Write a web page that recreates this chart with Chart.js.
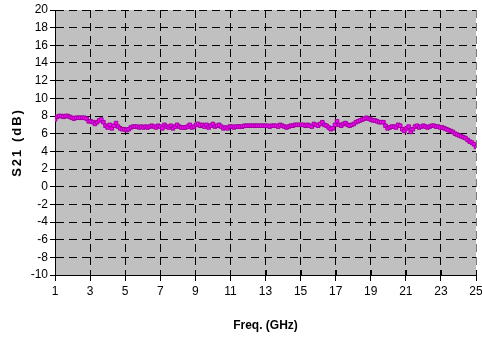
<!DOCTYPE html>
<html><head><meta charset="utf-8">
<script src="https://cdn.jsdelivr.net/npm/chart.js@4/dist/chart.umd.min.js"></script>
<style>html,body{margin:0;padding:0;background:#fff;}#c{display:block;}</style>
</head><body>
<canvas id="c" width="482" height="339"></canvas>
<script>
// Frequency samples (GHz)
const freqGHz = [
 1, 1.12, 1.24, 1.36, 1.48, 1.6, 1.72, 1.84, 1.96, 2.08,
 2.2, 2.32, 2.44, 2.56, 2.68, 2.8, 2.92, 3.04, 3.16, 3.28,
 3.4, 3.52, 3.64, 3.76, 3.88, 4, 4.12, 4.24, 4.36, 4.48,
 4.6, 4.72, 4.84, 4.96, 5.08, 5.2, 5.32, 5.44, 5.56, 5.68,
 5.8, 5.92, 6.04, 6.16, 6.28, 6.4, 6.52, 6.64, 6.76, 6.88,
 7, 7.12, 7.24, 7.36, 7.48, 7.6, 7.72, 7.84, 7.96, 8.08,
 8.2, 8.32, 8.44, 8.56, 8.68, 8.8, 8.92, 9.04, 9.16, 9.28,
 9.4, 9.52, 9.64, 9.76, 9.88, 10, 10.12, 10.24, 10.36, 10.48,
 10.6, 10.72, 10.84, 10.96, 11.08, 11.2, 11.32, 11.44, 11.56, 11.68,
 11.8, 11.92, 12.04, 12.16, 12.28, 12.4, 12.52, 12.64, 12.76, 12.88,
 13, 13.12, 13.24, 13.36, 13.48, 13.6, 13.72, 13.84, 13.96, 14.08,
 14.2, 14.32, 14.44, 14.56, 14.68, 14.8, 14.92, 15.04, 15.16, 15.28,
 15.4, 15.52, 15.64, 15.76, 15.88, 16, 16.12, 16.24, 16.36, 16.48,
 16.6, 16.72, 16.84, 16.96, 17.08, 17.2, 17.32, 17.44, 17.56, 17.68,
 17.8, 17.92, 18.04, 18.16, 18.28, 18.4, 18.52, 18.64, 18.76, 18.88,
 19, 19.12, 19.24, 19.36, 19.48, 19.6, 19.72, 19.84, 19.96, 20.08,
 20.2, 20.32, 20.44, 20.56, 20.68, 20.8, 20.92, 21.04, 21.16, 21.28,
 21.4, 21.52, 21.64, 21.76, 21.88, 22, 22.12, 22.24, 22.36, 22.48,
 22.6, 22.72, 22.84, 22.96, 23.08, 23.2, 23.32, 23.44, 23.56, 23.68,
 23.8, 23.92, 24.04, 24.16, 24.28, 24.4, 24.52, 24.64, 24.76, 24.88,
 25
];
// S21 (dB)
const s21dB = [
 7.6, 7.9, 8.0, 8.0, 7.9, 8.0, 8.0, 7.9, 7.8, 7.7,
 7.8, 7.8, 7.8, 7.8, 7.8, 7.7, 7.4, 7.4, 7.3, 7.1,
 7.3, 7.5, 7.6, 7.3, 6.9, 6.7, 7.0, 6.6, 6.9, 7.2,
 6.8, 6.6, 6.5, 6.5, 6.4, 6.5, 6.7, 6.8, 6.8, 6.8,
 6.7, 6.8, 6.7, 6.8, 6.7, 6.8, 6.9, 6.8, 6.7, 6.9,
 6.8, 6.6, 7.0, 6.8, 6.7, 6.9, 6.6, 6.8, 7.0, 6.8,
 6.7, 6.7, 6.7, 6.8, 7.0, 6.7, 6.8, 7.0, 7.1, 6.9,
 7.0, 6.8, 7.0, 6.7, 6.9, 7.1, 6.8, 6.9, 7.0, 6.8,
 6.6, 6.7, 6.6, 6.8, 6.8, 6.7, 6.8, 6.8, 6.8, 6.8,
 6.9, 6.9, 6.9, 6.9, 6.9, 6.9, 6.9, 6.9, 6.9, 6.9,
 6.9, 6.9, 6.8, 6.9, 6.9, 6.9, 6.8, 7.0, 6.9, 6.8,
 6.7, 6.8, 6.9, 6.9, 7.0, 7.0, 7.0, 7.0, 7.0, 6.9,
 7.0, 6.9, 6.8, 7.1, 7.0, 6.9, 7.1, 7.3, 7.0, 6.9,
 6.7, 6.5, 6.6, 7.0, 7.4, 7.0, 6.9, 7.1, 7.2, 7.0,
 6.9, 7.0, 7.1, 7.3, 7.4, 7.5, 7.6, 7.7, 7.8, 7.7,
 7.6, 7.5, 7.5, 7.4, 7.3, 7.3, 7.3, 6.9, 6.6, 6.7,
 6.8, 6.8, 6.7, 7.0, 6.9, 6.5, 6.3, 6.6, 6.8, 6.2,
 6.5, 6.8, 6.9, 6.7, 6.8, 6.9, 6.8, 6.7, 6.8, 6.9,
 6.9, 6.8, 6.8, 6.7, 6.7, 6.6, 6.5, 6.4, 6.3, 6.2,
 6.0, 5.9, 5.8, 5.7, 5.6, 5.5, 5.3, 5.1, 5.0, 4.8,
 4.5
];
const xAxisTitle = 'Freq. (GHz)';
const yAxisTitle = 'S21 (dB)';
const xMin = 1, xMax = 25, xStep = 2;
const yMin = -10, yMax = 20, yStep = 2;

const points = freqGHz.map((f, i) => ({x: f, y: s21dB[i]}));

const plotBg = {
  id: 'plotBg',
  beforeDraw(chart) {
    const {ctx, chartArea: a} = chart;
    ctx.save();
    ctx.fillStyle = '#C0C0C0';
    ctx.fillRect(a.left, a.top, a.right - a.left, a.bottom - a.top);
    ctx.restore();
    const s = chart.scales.y;
    if (s && !s._spaced) {
      const orig = s.drawTitle;
      s.drawTitle = function () {
        const c = this.ctx; c.save(); c.letterSpacing = '2px';
        orig.apply(this, arguments); c.restore();
      };
      s._spaced = true;
    }
  },
  afterDraw(chart) {
    const {ctx, chartArea: a} = chart;
    const xs = chart.scales.x;
    ctx.save();
    ctx.strokeStyle = '#000';
    ctx.lineWidth = 1;
    ctx.beginPath();
    xs.ticks.forEach(t => {
      const px = Math.round(xs.getPixelForValue(t.value)) + 0.5;
      ctx.moveTo(px, a.bottom - 5);
      ctx.lineTo(px, a.bottom);
    });
    ctx.stroke();
    ctx.restore();
  }
};

new Chart(document.getElementById('c'), {
  type: 'line',
  data: {
    datasets: [{
      data: points,
      borderColor: '#A000A0',
      borderWidth: 1,
      backgroundColor: '#FF00FF',
      pointStyle: 'rect',
      pointRadius: 2.5,
      pointBorderWidth: 1,
      pointBorderColor: '#A000A0',
      pointBackgroundColor: '#FF00FF',
      tension: 0
    }]
  },
  options: {
    responsive: false,
    animation: false,
    events: [],
    layout: {padding: {top: 10, right: 6, left: 0, bottom: 0}},
    plugins: {legend: {display: false}, tooltip: {enabled: false}},
    scales: {
      x: {
        type: 'linear', min: xMin, max: xMax,
        ticks: {stepSize: xStep, color: '#000', font: {family: 'Liberation Sans, Arial', size: 12}, padding: 3, maxRotation: 0, autoSkip: false},
        grid: {color: ctx => ctx.tick && ctx.tick.value === xMax ? '#7a7a7a' : '#000', lineWidth: 1, drawTicks: true, tickLength: 6, tickColor: '#000', tickBorderDash: []},
        border: {display: true, color: '#000', width: 1, dash: [8, 5]},
        title: {display: true, text: xAxisTitle, color: '#000', font: {family: 'Liberation Sans, Arial', size: 12, weight: 'bold'}, padding: {top: 0, bottom: 6}},
        afterFit(s) { s.height = 64; s.paddingLeft = 0; s.paddingRight = 0; }
      },
      y: {
        type: 'linear', min: yMin, max: yMax,
        ticks: {stepSize: yStep, color: '#000', font: {family: 'Liberation Sans, Arial', size: 12}, padding: 2},
        grid: {color: '#000', lineWidth: 1, drawTicks: true, tickLength: 5, tickColor: '#000', tickBorderDash: []},
        border: {display: true, color: '#000', width: 1, dash: [8, 5]},
        title: {display: true, text: yAxisTitle, color: '#000', font: {family: 'Liberation Sans, Arial', size: 13, weight: 'bold'}, padding: {top: 10, bottom: 0}},
        afterFit(s) { s.width = 55; }
      }
    }
  },
  plugins: [plotBg]
});
</script>
</body></html>
